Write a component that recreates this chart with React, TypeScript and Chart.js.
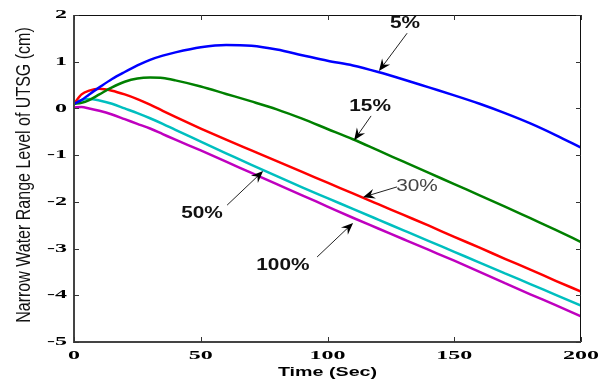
import React, { useEffect, useRef } from "react";
import { Chart, registerables } from "chart.js";

Chart.register(...registerables);

const times = [0, 3, 6, 10, 15, 20, 25, 30, 35, 40, 50, 60, 70, 80, 90, 100, 110, 120, 130, 140, 150, 160, 170, 180, 190, 200];
const series5 = [0.1, 0.18, 0.3, 0.45, 0.63, 0.78, 0.92, 1.04, 1.13, 1.2, 1.31, 1.36, 1.34, 1.26, 1.14, 1.02, 0.92, 0.78, 0.62, 0.45, 0.28, 0.1, -0.1, -0.32, -0.57, -0.84];
const series15 = [0.1, 0.12, 0.18, 0.3, 0.45, 0.57, 0.64, 0.66, 0.65, 0.6, 0.47, 0.31, 0.15, -0.02, -0.22, -0.44, -0.66, -0.9, -1.14, -1.38, -1.62, -1.86, -2.1, -2.35, -2.6, -2.86];
const series30 = [0.1, 0.3, 0.38, 0.42, 0.38, 0.3, 0.2, 0.08, -0.05, -0.18, -0.43, -0.67, -0.9, -1.13, -1.36, -1.59, -1.82, -2.05, -2.28, -2.51, -2.75, -2.98, -3.22, -3.45, -3.69, -3.92];
const series50 = [0.1, 0.18, 0.2, 0.17, 0.1, 0.0, -0.1, -0.21, -0.33, -0.46, -0.71, -0.96, -1.21, -1.45, -1.69, -1.92, -2.15, -2.38, -2.61, -2.84, -3.07, -3.3, -3.53, -3.76, -3.99, -4.22];
const series100 = [0.02, 0.03, 0.0, -0.05, -0.13, -0.23, -0.33, -0.43, -0.55, -0.67, -0.9, -1.14, -1.38, -1.62, -1.86, -2.1, -2.34, -2.57, -2.8, -3.03, -3.26, -3.5, -3.74, -3.98, -4.21, -4.45];

const xTickValues = [0, 50, 100, 150, 200];
const xTickLabels = ["0", "50", "100", "150", "200"];
const yTickValues = [-5, -4, -3, -2, -1, 0, 1, 2];
const yTickLabels = ["-5", "-4", "-3", "-2", "-1", "0", "1", "2"];

const xTitle = "Time (Sec)";
const yTitle = "Narrow Water Range Level of UTSG (cm)";

// annotation labels: text position and arrow (from -> tip) in data coordinates
const annLabels = ["5%", "15%", "30%", "50%", "100%"];
const annTextX = [130.6, 116.8, 135.3, 50.5, 82.4];
const annTextY = [1.81, 0.03, -1.68, -2.26, -3.37];
const annFromX = [131.4, 117.2, 127.4, 60.4, 95.9];
const annFromY = [1.61, -0.16, -1.68, -2.07, -3.18];
const annTipX = [120.3, 110.5, 114.0, 74.6, 110.1];
const annTipY = [0.8, -0.68, -1.9, -1.34, -2.45];

function pts(ys: number[]) {
  return times.map((t, i) => ({ x: t, y: ys[i] }));
}

function drawStretched(ctx: CanvasRenderingContext2D, text: string, x: number, y: number, font: string, sx: number, align: CanvasTextAlign, color: string) {
  ctx.save();
  ctx.translate(x, y);
  ctx.scale(sx, 1);
  ctx.font = font;
  ctx.fillStyle = color;
  ctx.textAlign = align;
  ctx.textBaseline = "middle";
  ctx.fillText(text, 0, 0);
  ctx.restore();
}

function drawArrow(ctx: CanvasRenderingContext2D, x1: number, y1: number, x2: number, y2: number) {
  const ang = Math.atan2(y2 - y1, x2 - x1);
  const len = 12;
  const half = 5;
  ctx.save();
  ctx.strokeStyle = "#222";
  ctx.lineWidth = 1;
  ctx.beginPath();
  ctx.moveTo(x1, y1);
  ctx.lineTo(x2 - Math.cos(ang) * 6, y2 - Math.sin(ang) * 6);
  ctx.stroke();
  ctx.translate(x2, y2);
  ctx.rotate(ang);
  ctx.fillStyle = "#000";
  ctx.beginPath();
  ctx.moveTo(0, 0);
  ctx.lineTo(-len, -half);
  ctx.lineTo(-len * 0.65, 0);
  ctx.lineTo(-len, half);
  ctx.closePath();
  ctx.fill();
  ctx.restore();
}

const decorPlugin = {
  id: "decor",
  afterDraw(chart: any) {
    const ctx: CanvasRenderingContext2D = chart.ctx;
    const { left, right, top, bottom } = chart.chartArea;
    const xs = chart.scales.x;
    const ys = chart.scales.y;
    ctx.save();
    // box
    ctx.strokeStyle = "#111";
    ctx.lineWidth = 1;
    ctx.beginPath();
    ctx.moveTo(left, top + 0.5);
    ctx.lineTo(right, top + 0.5);
    ctx.moveTo(right - 0.5, top);
    ctx.lineTo(right - 0.5, bottom);
    ctx.stroke();
    ctx.strokeStyle = "#444";
    ctx.lineWidth = 2;
    ctx.beginPath();
    ctx.moveTo(left, top);
    ctx.lineTo(left, bottom);
    ctx.lineTo(right, bottom);
    ctx.stroke();
    // inward ticks
    ctx.lineWidth = 1;
    ctx.strokeStyle = "#333";
    ctx.beginPath();
    xTickValues.forEach((v) => {
      const px = Math.round(xs.getPixelForValue(v)) + 0.5;
      ctx.moveTo(px, bottom);
      ctx.lineTo(px, bottom - 5);
      ctx.moveTo(px, top);
      ctx.lineTo(px, top + 5);
    });
    yTickValues.forEach((v) => {
      const py = Math.round(ys.getPixelForValue(v)) + 0.5;
      ctx.moveTo(left, py);
      ctx.lineTo(left + 5, py);
      ctx.moveTo(right, py);
      ctx.lineTo(right - 5, py);
    });
    ctx.stroke();
    // tick labels
    const tickFont = 'bold 12px "Liberation Serif"';
    xTickValues.forEach((v, i) => {
      drawStretched(ctx, xTickLabels[i], xs.getPixelForValue(v), bottom + 14, tickFont, 2.0, "center", "#000");
    });
    yTickValues.forEach((v, i) => {
      drawStretched(ctx, yTickLabels[i], left - 7, ys.getPixelForValue(v), tickFont, 2.0, "right", "#000");
    });
    // axis titles
    drawStretched(ctx, xTitle, (left + right) / 2, bottom + 31, 'bold 12px "Liberation Sans"', 1.64, "center", "#000");
    ctx.save();
    ctx.translate(24, 175);
    ctx.rotate(-Math.PI / 2);
    ctx.scale(1, 1.25);
    ctx.font = '16px "Liberation Sans"';
    ctx.fillStyle = "#111";
    ctx.textAlign = "center";
    ctx.textBaseline = "middle";
    ctx.fillText(yTitle, 0, 0);
    ctx.restore();
    // annotations
    annLabels.forEach((lab, i) => {
      const isGray = lab === "30%";
      drawStretched(
        ctx,
        lab,
        xs.getPixelForValue(annTextX[i]),
        ys.getPixelForValue(annTextY[i]),
        isGray ? '16px "Liberation Sans"' : 'bold 16px "Liberation Sans"',
        1.3,
        "center",
        isGray ? "#444" : "#111"
      );
      drawArrow(
        ctx,
        xs.getPixelForValue(annFromX[i]),
        ys.getPixelForValue(annFromY[i]),
        xs.getPixelForValue(annTipX[i]),
        ys.getPixelForValue(annTipY[i])
      );
    });
    ctx.restore();
  },
};

export default function App() {
  const ref = useRef<HTMLCanvasElement | null>(null);
  useEffect(() => {
    document.body.style.margin = "0";
    const canvas = ref.current!;
    const mk = (label: string, ys: number[], color: string) => ({
      label,
      data: pts(ys),
      borderColor: color,
      backgroundColor: color,
      borderWidth: 2.5,
      pointRadius: 0,
      cubicInterpolationMode: "monotone" as const,
      fill: false,
    });
    const chart = new Chart(canvas, {
      type: "line",
      data: {
        datasets: [
          mk("5%", series5, "#0000ff"),
          mk("15%", series15, "#008000"),
          mk("30%", series30, "#ff0000"),
          mk("50%", series50, "#00bfbf"),
          mk("100%", series100, "#bf00bf"),
        ],
      },
      options: {
        responsive: false,
        animation: false,
        layout: { padding: { top: 15, right: 28, left: 0, bottom: 0 } },
        plugins: { legend: { display: false }, tooltip: { enabled: false } },
        scales: {
          x: {
            type: "linear",
            min: 0,
            max: 200,
            grid: { display: false },
            border: { display: false },
            ticks: { display: false },
            afterFit: (s: any) => {
              s.height = 43;
            },
          },
          y: {
            type: "linear",
            min: -5,
            max: 2,
            grid: { display: false },
            border: { display: false },
            ticks: { display: false },
            afterFit: (s: any) => {
              s.width = 74;
            },
          },
        },
      },
      plugins: [decorPlugin],
    });
    return () => chart.destroy();
  }, []);
  return <canvas ref={ref} width={609} height={385} style={{ display: "block" }} />;
}
